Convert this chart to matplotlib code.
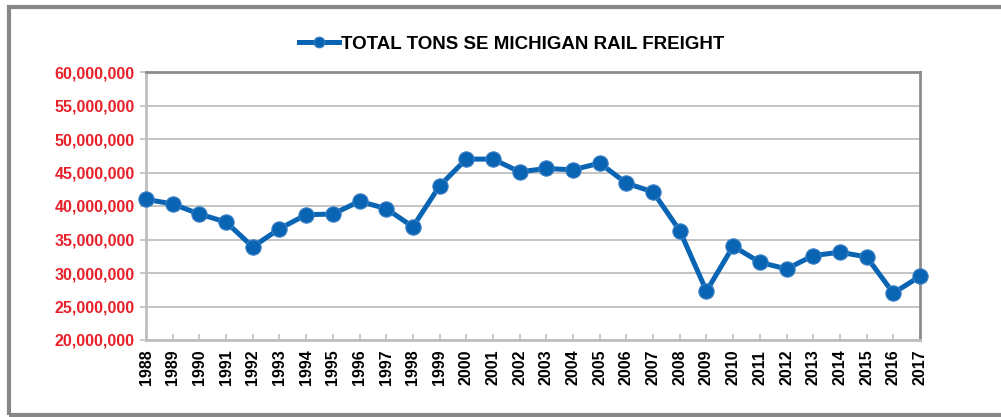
import matplotlib.pyplot as plt
from matplotlib.patches import Rectangle
from matplotlib.ticker import FuncFormatter

years = list(range(1988, 2018))
tons = [41.0, 40.3, 38.8, 37.6, 33.9, 36.6, 38.7, 38.8, 40.7, 39.6,
        36.9, 43.0, 47.0, 47.0, 45.1, 45.6, 45.4, 46.4, 43.4, 42.1,
        36.3, 27.3, 34.0, 31.6, 30.6, 32.6, 33.1, 32.4, 27.0, 29.5]
tons = [v * 1e6 for v in tons]
label = 'TOTAL TONS SE MICHIGAN RAIL FREIGHT'

plt.rcParams['font.family'] = ['Liberation Sans', 'DejaVu Sans']
plt.rcParams['font.weight'] = 'bold'

fig = plt.figure(figsize=(10.01, 4.17), dpi=100)
# outer chart border
fig.patches.append(Rectangle((9 / 1001, 2 / 417), 1.0, 408 / 417, transform=fig.transFigure,
                             fill=False, edgecolor='#878787', linewidth=3))

ax = fig.add_axes([146 / 1001, 1 - 340 / 417, (920 - 146) / 1001, (340 - 72) / 417])
ax.plot(years, tons, color='#0A64B4', linewidth=3.6, marker='o', markersize=11,
        markeredgecolor='#3A80C4', markeredgewidth=0.8, label=label, zorder=3, clip_on=False)

ax.set_xlim(1988, 2017)
ax.set_ylim(20e6, 60e6)
ax.set_yticks(range(20000000, 60000001, 5000000))
ax.yaxis.set_major_formatter(FuncFormatter(lambda v, p: f'{int(v):,}'))
ax.set_xticks(years)
ax.set_xticklabels([str(y) for y in years], rotation=90)
ax.grid(axis='y', color='#BFBFBF', linewidth=1.3)
ax.set_axisbelow(True)

for s in ax.spines.values():
    s.set_color('#8C8C8C')
    s.set_linewidth(2)
ax.spines['bottom'].set_color('#BFBFBF')
ax.spines['left'].set_color('#BFBFBF')

ax.tick_params(axis='y', colors='#BFBFBF', labelcolor='#E8202A', labelsize=11.5,
               length=4, width=1.2, pad=4)
ax.tick_params(axis='x', direction='in', colors='#BFBFBF', labelcolor='black',
               labelsize=11.5, length=4, width=1.2, pad=7)
for t in ax.get_yticklabels() + ax.get_xticklabels():
    t.set_fontweight('bold')

leg = fig.legend(loc='center', bbox_to_anchor=(512 / 1001, 1 - 44 / 417), frameon=False,
                 handlelength=2.1, handletextpad=0.15, markerscale=0.7,
                 prop={'weight': 'bold', 'size': 13.5})

fig.savefig('out.png', dpi=100)
